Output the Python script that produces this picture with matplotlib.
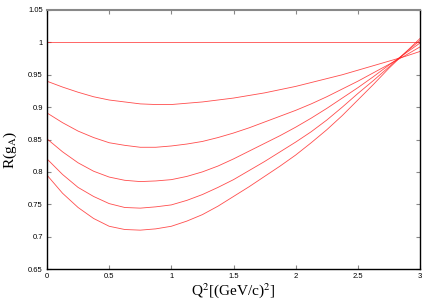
import matplotlib
matplotlib.use("Agg")
import matplotlib.pyplot as plt

q2 = [0.0, 0.125, 0.25, 0.375, 0.5, 0.625, 0.75, 0.875, 1.0, 1.125, 1.25, 1.375,
      1.5, 1.625, 1.75, 1.875, 2.0, 2.125, 2.25, 2.375, 2.5, 2.625, 2.75, 2.875, 3.0]

r_flat = [1.0] * len(q2)
r_c2 = [0.940, 0.931, 0.923, 0.916, 0.911, 0.908, 0.905, 0.904, 0.904, 0.906, 0.908, 0.911,
        0.914, 0.918, 0.922, 0.927, 0.932, 0.938, 0.944, 0.950, 0.957, 0.964, 0.971, 0.978, 0.986]
r_c3 = [0.891, 0.876, 0.863, 0.853, 0.845, 0.841, 0.838, 0.838, 0.840, 0.843, 0.847, 0.853,
        0.860, 0.868, 0.877, 0.886, 0.895, 0.905, 0.916, 0.928, 0.940, 0.953, 0.966, 0.979, 0.993]
r_c4 = [0.851, 0.831, 0.814, 0.801, 0.792, 0.787, 0.785, 0.786, 0.788, 0.793, 0.800, 0.809,
        0.820, 0.832, 0.844, 0.856, 0.869, 0.883, 0.898, 0.914, 0.930, 0.947, 0.965, 0.982, 0.999]
r_c5 = [0.820, 0.796, 0.776, 0.762, 0.751, 0.745, 0.744, 0.746, 0.749, 0.756, 0.765, 0.776,
        0.788, 0.802, 0.816, 0.831, 0.846, 0.862, 0.880, 0.900, 0.921, 0.941, 0.962, 0.983, 1.003]
r_c6 = [0.795, 0.767, 0.745, 0.728, 0.716, 0.711, 0.710, 0.712, 0.716, 0.724, 0.734, 0.747,
        0.762, 0.777, 0.793, 0.809, 0.826, 0.845, 0.865, 0.887, 0.911, 0.935, 0.960, 0.983, 1.006]

series = [r_flat, r_c2, r_c3, r_c4, r_c5, r_c6]

xticks = [0, 0.5, 1, 1.5, 2, 2.5, 3]
xticklabels = ["0", "0.5", "1", "1.5", "2", "2.5", "3"]
yticks = [0.65, 0.7, 0.75, 0.8, 0.85, 0.9, 0.95, 1.0, 1.05]
yticklabels = ["0.65", "0.7", "0.75", "0.8", "0.85", "0.9", "0.95", "1", "1.05"]

plt.rcParams['mathtext.fontset'] = 'stix'

fig = plt.figure(figsize=(4.36, 3.05), dpi=100)
ax = fig.add_axes([47/436, 1-269/305, (420-47)/436, (269-10)/305])

for s in series:
    ax.plot(q2, s, color='#ff2020', lw=0.6, alpha=0.8)

ax.set_xlim(0, 3)
ax.set_ylim(0.65, 1.05)
ax.set_xticks(xticks)
ax.set_xticklabels(xticklabels, fontsize=5.5, family='Liberation Sans')
ax.set_yticks(yticks)
ax.set_yticklabels(yticklabels, fontsize=5.5, family='Liberation Sans')
ax.tick_params(direction='in', length=3, width=0.8, color='#888888',
               top=True, right=True, pad=3)

for side in ['left', 'bottom', 'right']:
    ax.spines[side].set_color('black')
    ax.spines[side].set_linewidth(1.0)
ax.spines['top'].set_color('#888888')
ax.spines['top'].set_linewidth(1.5)

ax.set_xlabel(r"Q$^2$[(GeV/c)$^2$]", fontsize=11, family='Liberation Serif')
ax.xaxis.set_label_coords(0.5, -0.045)
ax.set_ylabel(r"R(g$_\mathrm{A}$)", fontsize=11, family='Liberation Serif')
ax.yaxis.set_label_coords(-0.075, 0.46)

fig.savefig("out.png", dpi=100)
